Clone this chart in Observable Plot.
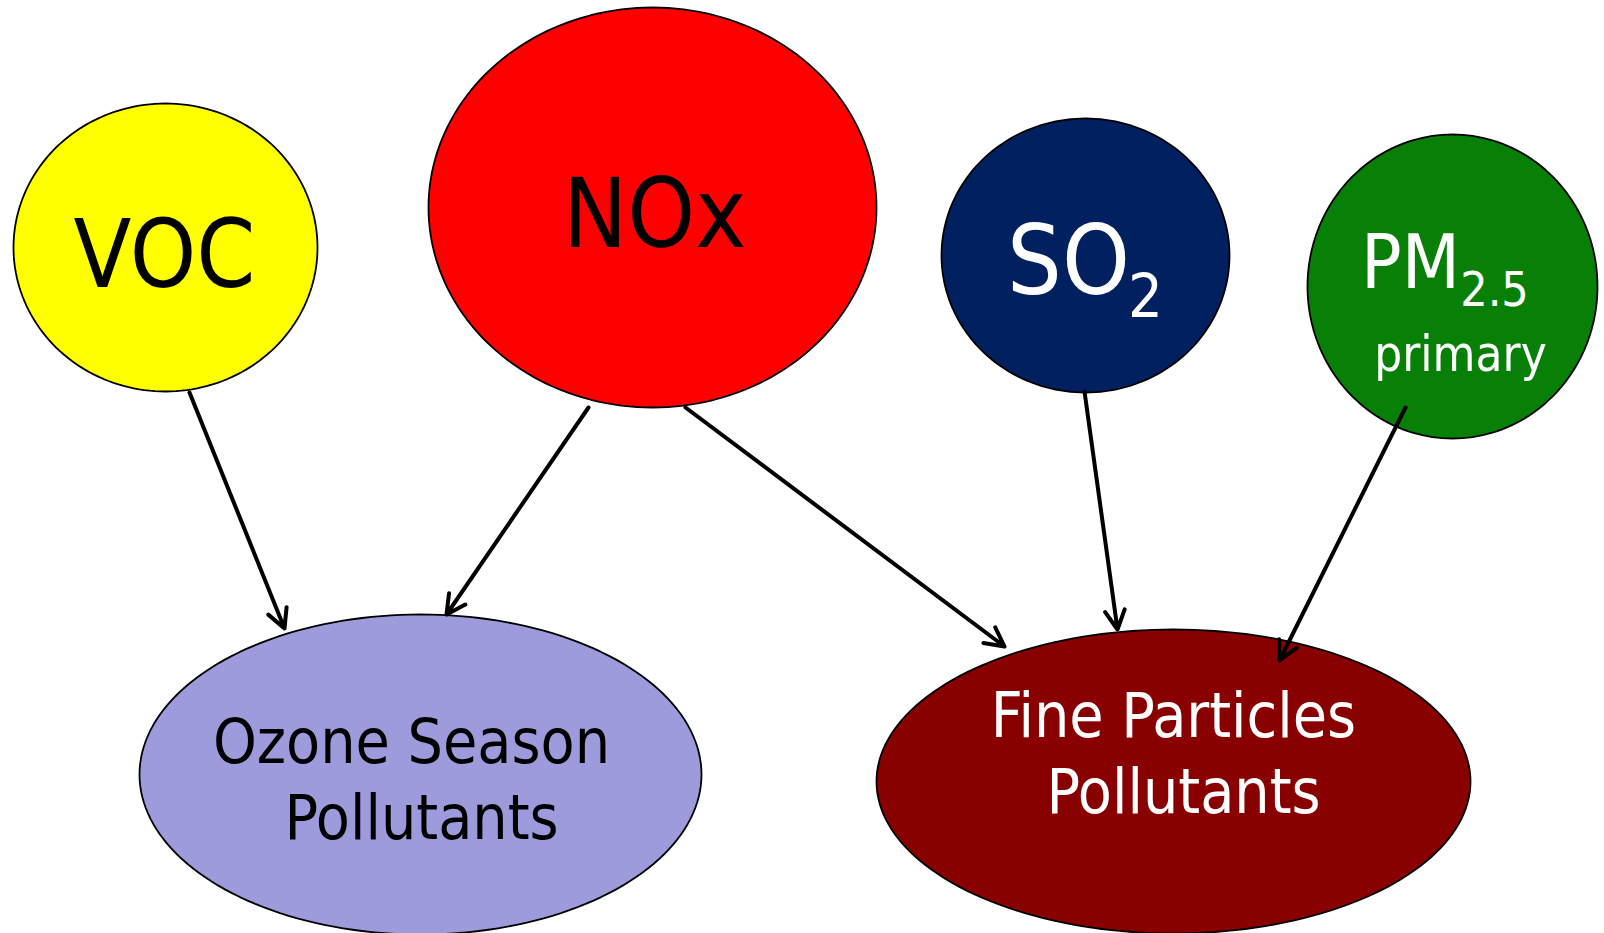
<!DOCTYPE html>
<html><head><meta charset="utf-8">
<script src="https://cdn.jsdelivr.net/npm/d3@7"></script>
<script src="https://cdn.jsdelivr.net/npm/@observablehq/plot@0.6"></script>
<style>html,body{margin:0;padding:0;background:#fff;overflow:hidden}</style>
</head><body><div id="chart"></div>
<script>
// Nodes (ellipses): centre and radii in picture units
const nodeIds   = ["VOC", "NOx", "SO2", "PM25", "Ozone", "Fine"];
const nodeCx    = [165, 652, 1085, 1452, 420, 1173];
const nodeCy    = [247, 207, 255, 286, 774, 781];
const nodeRx    = [152, 224, 144, 145, 281, 297];
const nodeRy    = [144, 200, 137, 152, 160, 152];
const nodeFill  = ["#FFFF00", "#FF0000", "#002060", "#088008", "#9D9BDB", "#880000"];

// Links (arrows)
const linkX1 = [189, 588, 685, 1084, 1405];
const linkY1 = [392, 407, 407, 391, 407];
const linkX2 = [284, 446, 1004, 1117, 1279];
const linkY2 = [628, 614, 646, 629, 660];

// Labels
const labelText  = ["VOC", "NOx", "SO", "2", "PM", "2.5", "primary", "Ozone Season", "Pollutants", "Fine Particles", "Pollutants"];
const labelX     = [164, 654, 1068, 1145, 1410, 1494, 1460, 411, 421, 1173, 1183];
const labelY     = [286, 246, 293, 316, 287, 305, 370, 762, 838, 736, 812];
const labelSize  = [94, 96, 96, 61, 75, 48, 49, 62, 62, 62, 62];
const labelColor = ["black", "black", "white", "white", "white", "white", "white", "black", "black", "white", "white"];

// Build outline tables
const outline = [];
nodeIds.forEach((id, i) => {
  const n = 180;
  for (let k = 0; k < n; k++) {
    const a = (2 * Math.PI * k) / n;
    outline.push({id, x: nodeCx[i] + nodeRx[i] * Math.cos(a), y: nodeCy[i] + nodeRy[i] * Math.sin(a), fill: nodeFill[i]});
  }
});
const links = linkX1.map((_, i) => ({x1: linkX1[i], y1: linkY1[i], x2: linkX2[i], y2: linkY2[i]}));
const labels = labelText.map((t, i) => ({t, x: labelX[i], y: labelY[i], s: labelSize[i], c: labelColor[i]}));

const W = 1604, H = 933;
const chart = Plot.plot({
  width: W, height: H,
  margin: 0,
  x: {domain: [0, W], range: [0, W], axis: null},
  y: {domain: [0, H], range: [0, H], axis: null},
  color: {type: "identity"},
  style: {background: "white"},
  marks: [
    Plot.line(outline, {x: "x", y: "y", z: "id", fill: "fill", stroke: "black", strokeWidth: 1.8, curve: "linear-closed"}),
    Plot.arrow(links, {x1: "x1", y1: "y1", x2: "x2", y2: "y2", stroke: "black", strokeWidth: 4, headLength: 8, headAngle: 55}),
    Plot.text(labels, {x: "x", y: "y", text: "t", fontSize: "s", fill: "c", lineAnchor: "bottom", textAnchor: "middle",
      fontFamily: "'Liberation Sans Narrow', 'DejaVu Sans Condensed', 'Liberation Sans', sans-serif"})
  ]
});
document.getElementById("chart").appendChild(chart);
</script>
</body></html>
